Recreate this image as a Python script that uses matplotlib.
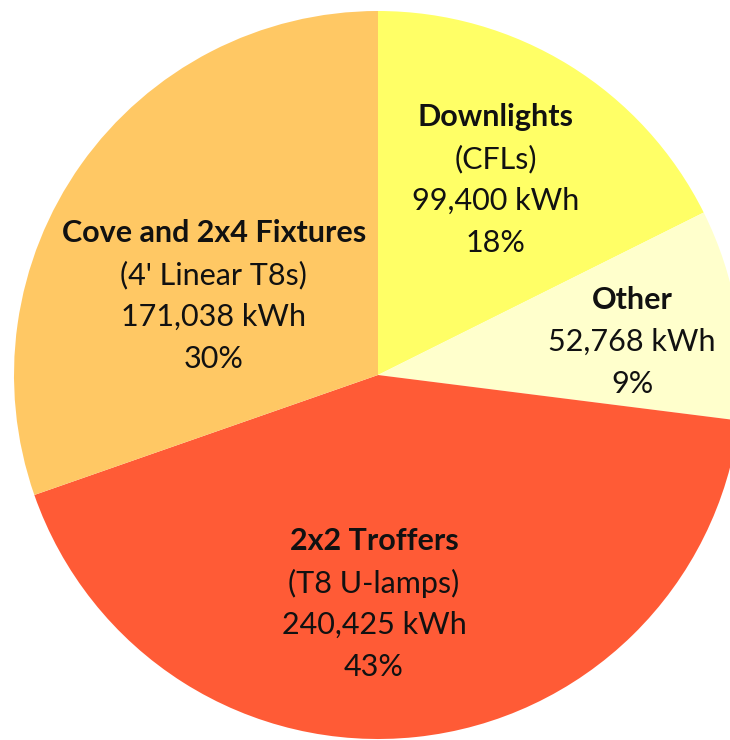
import matplotlib
matplotlib.use('Agg')
import matplotlib.pyplot as plt

# data
categories = ['Downlights', 'Other', '2x2 Troffers', 'Cove and 2x4 Fixtures']
subtitles = ['(CFLs)', None, '(T8 U-lamps)', "(4' Linear T8s)"]
kwh = [99400, 52768, 240425, 171038]
colors = ['#FFFF66', '#FFFFCC', '#FF5B36', '#FFC864']

# label block centres (layout only, pie radius = 1)
label_pos = [(0.324, 0.536), (0.698, 0.091), (-0.011, -0.629), (-0.451, 0.217)]

fig = plt.figure(figsize=(7.3, 7.4), dpi=100)
ax = fig.add_axes([0, 0, 1, 1])

r_px = 364.0
cx, cy = 378.0, 375.0
ax.pie(kwh, colors=colors, startangle=90, counterclock=False, radius=1,
       wedgeprops=dict(linewidth=0))
ax.set_aspect('equal')
ax.set_xlim(-cx / r_px, (730 - cx) / r_px)
ax.set_ylim(-(740 - cy) / r_px, cy / r_px)
ax.axis('off')

total = sum(kwh)
step = 42 / r_px
fs = 22
font = 'Lato'
for name, sub, val, (x, y) in zip(categories, subtitles, kwh, label_pos):
    lines = [(name, 'bold')]
    if sub:
        lines.append((sub, 'normal'))
    lines.append((f'{val:,} kWh', 'normal'))
    lines.append((f'{round(100 * val / total)}%', 'normal'))
    n = len(lines)
    for i, (txt, w) in enumerate(lines):
        ty = y + (n - 1) / 2 * step - i * step
        ax.text(x, ty, txt, ha='center', va='center', fontsize=fs,
                fontweight=w, family=font, color='#111111')

fig.savefig('out.png', dpi=100)
